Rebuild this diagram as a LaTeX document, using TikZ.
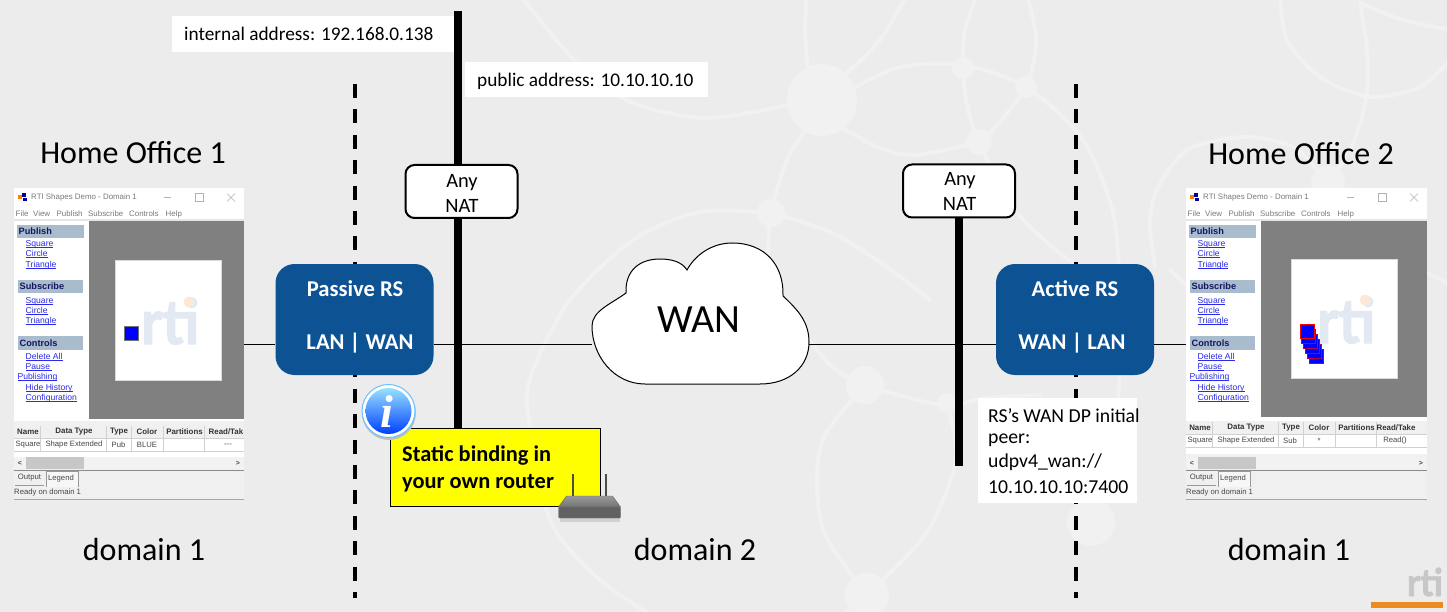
\documentclass[tikz,border=0pt]{standalone}
\usepackage{fontspec}
\usepackage{graphicx}
\setmainfont{Carlito}
\newfontfamily\winfont{Liberation Sans}
\newfontfamily\logofont[BoldFeatures={FakeBold=2}]{Lato}
\usetikzlibrary{shapes.geometric,calc}
\definecolor{pagebg}{HTML}{ECECEC}
\definecolor{wmark}{HTML}{F1F1F1}
\definecolor{rsblue}{HTML}{0D5394}
\definecolor{hdrblue}{HTML}{A9BCCD}
\definecolor{navytxt}{HTML}{14145F}
\definecolor{linkblue}{HTML}{2A2AE8}
\definecolor{wingrey}{HTML}{808080}
\definecolor{logoblue}{HTML}{E3E9F2}
\definecolor{logodot}{HTML}{FBE9D6}
\definecolor{barorange}{HTML}{EE8A22}
\definecolor{noteyel}{RGB}{255,255,0}
\newcommand\fs[1]{\fontsize{#1}{#1}\selectfont}
\newcommand\lnk[1]{\setbox0=\hbox{#1}\rlap{\rule[-1.1pt]{\wd0}{.55pt}}\box0}
\tikzset{
  x=1pt,y=-1pt,
  wm/.style={draw=wmark,line width=4pt,line cap=round,smooth},
  wmnode/.style={fill=wmark,draw=none},
  label/.style={inner sep=0pt,text=black,font=\fs{32}},
  bodytxt/.style={inner sep=0pt,anchor=west,font=\fs{19.3}},
  notetxt/.style={inner sep=0pt,anchor=west,font=\fs{19.7}},
  yeltxt/.style={inner sep=0pt,anchor=west,font=\fs{22.4}\bfseries},
  anytxt/.style={inner sep=0pt,font=\fs{20.4}},
  natbox/.style={draw=black,line width=2pt,fill=white,rounded corners=9pt,inner sep=0pt,minimum width=112pt,minimum height=53pt},
  rsbox/.style={fill=rsblue,rounded corners=19pt,inner sep=0pt,minimum width=158pt,minimum height=111pt},
  rstext/.style={text=white,inner sep=0pt,font=\fs{22.6}\bfseries},
  dashline/.style={line width=4pt,dash pattern=on 14pt off 11.4pt},
  natline/.style={line width=7.8pt},
  wintxt/.style={inner sep=0pt,anchor=west,font=\winfont\fs{8.6}},
  grytxt/.style={wintxt,text=black!52,font=\winfont\fs{7.9}},
  hdrtxt/.style={wintxt,font=\winfont\bfseries\fs{9.2},text=navytxt},
  linktxt/.style={wintxt,anchor=base west,yshift=-3pt,text=linkblue},
  tabtxt/.style={inner sep=0pt,font=\winfont\fs{7.7},text=black!72},
  tabhdr/.style={inner sep=0pt,font=\winfont\bfseries\fs{7.9},text=black!80},
  logotxt/.style={inner sep=0pt,anchor=base west},
}
% #1 name prefix, #2 x shift, #3 right edge (local), #4 bottom of grey field, #5 header row y
\newcommand\shapeswin[5]{%
\begin{scope}[shift={(#2,0)}]
  \fill[white] (14,188) rectangle (#3,421);
  \fill[black!6] (14,421) rectangle (#3,500);
  \fill[wingrey] (89,221) rectangle (#3,#4);
  \fill[black!10] (14,219.5) rectangle (#3,221);
  % title bar
  \fill[blue!60!black] (22,193) rectangle (26,197); \fill[orange] (18,195) rectangle (21.5,199);
  \fill[blue!60!black] (23,198) rectangle (26.5,201.5);
  \node[grytxt] (#1title) at (31,197.5) {RTI Shapes Demo - Domain 1};
  \draw[black!30] ($(#3-80,197.5)$) -- ++(7,0);
  \draw[black!30] ($(#3-49,193.5)$) rectangle ++(8,8);
  \draw[black!30] ($(#3-17,193.5)$) -- ++(8,8) ($(#3-17,201.5)$) -- ++(8,-8);
  \node[grytxt] (#1mf) at (15.5,214) {File};
  \node[grytxt] (#1mv) at (33,214) {View};
  \node[grytxt] (#1mp) at (56.5,214) {Publish};
  \node[grytxt] (#1ms) at (88,214) {Subscribe};
  \node[grytxt] (#1mc) at (129,214) {Controls};
  \node[grytxt] (#1mh) at (165.5,214) {Help};
  % side panel
  \fill[hdrblue] (17,225) rectangle (84,238);
  \node[hdrtxt] (#1hp) at (18.5,231.5) {Publish};
  \node[linktxt] (#1a) at (25.5,243.5) {\lnk{Square}};
  \node[linktxt] (#1b) at (25.5,253.5) {\lnk{Circle}};
  \node[linktxt] (#1c) at (25.5,264) {\lnk{Triangle}};
  \fill[hdrblue] (18,280) rectangle (83,293);
  \node[hdrtxt] (#1hs) at (19.5,286.5) {Subscribe};
  \node[linktxt] (#1d) at (25.5,300) {\lnk{Square}};
  \node[linktxt] (#1e) at (25.5,310) {\lnk{Circle}};
  \node[linktxt] (#1f) at (25.5,320.5) {\lnk{Triangle}};
  \fill[hdrblue] (18,336) rectangle (83,350);
  \node[hdrtxt] (#1hc) at (19.5,343) {Controls};
  \node[linktxt] (#1g) at (25.5,356) {\lnk{Delete All}};
  \node[linktxt] (#1h) at (25.5,366) {\lnk{Pause\ }};
  \node[linktxt] (#1i) at (17.5,376.5) {\lnk{Publishing}};
  \node[linktxt] (#1j) at (25.5,387) {\lnk{Hide History}};
  \node[linktxt] (#1k) at (25.5,397) {\lnk{Configuration}};
  % table
  \fill[white] (14,{#5+6}) rectangle (#3,{#5+26});
  \foreach \cx in {40.5,106,131.5,163.5,204} {\draw[black!18,line width=.7pt] (\cx,{#5-6}) -- (\cx,{#5+19});}
  \draw[black!18,line width=.7pt] (14,{#5+6}) -- (#3,{#5+6}) (14,{#5+19}) -- (#3,{#5+19});
  \node[tabhdr] (#1t1) at (28,#5) {Name};
  \node[tabhdr] (#1t2) at (74,#5) {Data Type};
  \node[tabhdr] (#1t3) at (119,#5) {Type};
  \node[tabhdr] (#1t4) at (147,#5) {Color};
  \node[tabhdr] (#1t5) at (184.5,#5) {Partitions};
  \node[tabtxt] (#1r1) at (28,{#5+13}) {Square};
  \node[tabtxt] (#1r2) at (74,{#5+13}) {Shape Extended};
  % scroll bar, tabs, status
  \fill[black!5] (14,457) rectangle (#3,469);
  \fill[black!22] (26,457) rectangle (84,469);
  \node[tabtxt,font=\winfont\bfseries\fs{7}] (#1sl) at (20,463) {<};
  \node[tabtxt,font=\winfont\bfseries\fs{7}] (#1sr) at ($(#3-6,463)$) {>};
  \draw[black!45] (14,470) -- (#3,470);
  \draw[black!40] (15,485.5) -- (44,485.5);
  \fill[black!3] (46,471) rectangle (78,487);
  \draw[black!40] (46,487) -- (46,471) -- (78,471) -- (78,487);
  \node[tabtxt] (#1o) at (29.5,478) {Output};
  \node[tabtxt] (#1l) at (61,478.5) {Legend};
  \node[tabtxt,anchor=west] (#1st) at (14,493) {Ready on domain 1};
  \draw[black!35] (14,499.5) -- (#3,499.5);
\end{scope}}
\begin{document}
\begin{tikzpicture}
\useasboundingbox (0,0) rectangle (1447,612);
\fill[pagebg] (0,0) rectangle (1447,612);
% --- faint watermark network ---
\begin{scope}
\clip (0,0) rectangle (1447,612);
\draw[wm] plot[smooth] coordinates {(520,-5)(577,63)(633,103)(707,118)(790,105)(822,100)};
\draw[wm] plot[smooth] coordinates {(812,120)(787,160)(770,213)};
\draw[wm] plot[smooth] coordinates {(772,213)(700,212)(633,240)(570,300)(533,370)(528,413)(550,520)(600,580)(660,620)};
\draw[wm] plot[smooth] coordinates {(807,-5)(805,30)(808,70)};
\draw[wm] plot[smooth] coordinates {(907,-5)(880,40)(845,75)};
\draw[wm] plot[smooth] coordinates {(850,90)(900,67)(963,65)(1026,87)(1083,140)(1113,213)(1120,300)(1118,400)(1100,510)};
\draw[wm] plot[smooth] coordinates {(977,-5)(965,30)(963,68)(967,105)(979,142)(1013,207)(1050,245)(1090,275)};
\draw[wm] plot[smooth] coordinates {(1027,-5)(1036,40)(1026,87)(990,133)(979,142)};
\draw[wm] plot[smooth] coordinates {(843,128)(880,148)(917,155)(979,142)};
\draw[wm] plot[smooth] coordinates {(772,213)(830,232)(880,262)(930,300)};
\draw[wm] plot[smooth] coordinates {(769,220)(768,260)};
\draw[wm] plot[smooth] coordinates {(808,337)(830,365)(865,385)(943,405)(985,398)(1040,395)};
\draw[wm] plot[smooth] coordinates {(865,385)(825,435)(817,480)(825,535)(867,595)};
\draw[wm] plot[smooth] coordinates {(947,403)(955,440)(953,473)(925,535)(867,595)(830,625)};
\draw[wm] plot[smooth] coordinates {(1280,-5)(1287,40)(1320,77)(1370,97)(1420,87)(1452,58)};
\draw[wm] plot[smooth] coordinates {(1360,3)(1367,50)(1366,100)(1350,150)(1328,183)};
\draw[wm] plot[smooth] coordinates {(1360,3)(1403,20)(1452,30)};
\draw[wm] plot[smooth] coordinates {(1155,267)(1150,225)(1157,190)(1187,150)(1243,137)(1293,147)(1328,183)};
\draw[wm] plot[smooth] coordinates {(1427,273)(1452,285)};
\draw[wm] plot[smooth] coordinates {(1170,270)(1186,285)};
\fill[wmnode] (822,100) ellipse[x radius=35,y radius=36];
\fill[wmnode] (771,213) circle[radius=14];
\fill[wmnode] (963,68) circle[radius=11];
\fill[wmnode] (1026,87) circle[radius=11];
\fill[wmnode] (979,142) circle[radius=13];
\fill[wmnode] (865,385) circle[radius=19];
\fill[wmnode] (947,403) circle[radius=10];
\fill[wmnode] (867,595) circle[radius=22];
\fill[wmnode] (1328,183) circle[radius=17];
\fill[wmnode] (1091,522) circle[radius=24];
\end{scope}
% --- windows ---
\shapeswin{wa}{0}{244}{419}{432}
\shapeswin{wb}{1172}{255}{417}{428}
% window A canvas
\fill[white,draw=black!15] (115,260) rectangle (221,380);
\node[logotxt,text=logoblue,font=\logofont\bfseries\fs{62}] (logoa) at (141,344) {\scalebox{.92}[1]{rti}};
\fill[logodot] (189,302) circle[radius=5.5];
\fill[blue,draw=black!55] (124,326) rectangle (138,340);
% window B canvas
\fill[white,draw=black!15] (1291,259) rectangle (1397,378);
\node[logotxt,text=logoblue,font=\logofont\bfseries\fs{62}] (logob) at (1317,343) {\scalebox{.92}[1]{rti}};
\fill[logodot] (1365,300) circle[radius=5.5];
\foreach \k in {5,4,3,2,1} {\fill[blue,draw=red!70!blue,line width=.8pt] ({1300+\k*1.8},{324+\k*5}) rectangle ++(14,14);}
\fill[blue,draw=red,line width=1pt] (1300,324) rectangle ++(14,14);
% table cells that differ
\node[tabhdr] (wat6) at (226,432) {Read/Tak};
\node[tabtxt] (wav3) at (118.5,445) {Pub};
\node[tabtxt] (wav4) at (147,445) {BLUE};
\node[tabtxt] (wav6) at (228,445) {---};
\node[tabhdr] (wbt6) at (1396,428) {Read/Take};
\node[tabtxt] (wbv3) at (1290,441) {Sub};
\node[tabtxt] (wbv4) at (1319,441) {*};
\node[tabtxt] (wbv6) at (1395,441) {Read()};
% --- dashed boundaries ---
\coordinate (da1) at (355,84); \coordinate (da2) at (355,598);
\coordinate (db1) at (1075.5,84); \coordinate (db2) at (1075.5,598);
\draw[dashline] (da1) -- (da2);
\draw[dashline] (db1) -- (db2);
% --- nodes ---
\node[rsbox] (passive) at (354.5,319.5) {};
\node[rsbox] (active) at (1075,319.5) {};
\node[natbox] (nat1) at (461.5,191.5) {};
\node[natbox] (nat2) at (959,191) {};
% cloud
\path[fill=white,draw=black,line width=1pt]
  (645,384) .. controls (614,384) and (592,356) .. (592,326)
  .. controls (592,311) and (611,304) .. (626,293)
  .. controls (625,270) and (640,259) .. (660,259)
  .. controls (672,259) and (682,262) .. (687,270)
  .. controls (695,255) and (712,243) .. (732,243)
  .. controls (765,243) and (784,265) .. (783,296)
  .. controls (798,310) and (809,322) .. (809,342)
  .. controls (809,366) and (790,384) .. (760,384) -- cycle;
\node[inner sep=0pt,font=\fs{40}] (wan) at (699,320) {WAN};
\coordinate (lineA) at (244,344.5);
\coordinate (cloudL) at (592,344.5);
\coordinate (cloudR) at (809,344.5);
\coordinate (lineB) at (1186,344.5);
\coordinate (nata) at (458,11);
\coordinate (natb) at (458,430);
\coordinate (natc) at (959,466);
% backbone, between the boxes
\draw[line width=1pt] (lineA) -- (lineA -| passive.west);
\draw[line width=1pt] (lineA -| passive.east) -- (cloudL);
\draw[line width=1pt] (cloudR) -- (lineA -| active.west);
\draw[line width=1pt] (lineA -| active.east) -- (lineB);
% thick NAT lines
\draw[natline] (nata) -- (nat1.north -| nata);
\draw[natline] (nat1.south -| nata) -- (natb);
\draw[natline] (nat2.south -| natc) -- (natc);
% text in boxes
\node[rstext] (ptop) at (355,289) {Passive RS};
\node[rstext] (pbot) at (360,343) {LAN | WAN};
\node[rstext] (atop) at (1075,289) {Active RS};
\node[rstext] (abot) at (1072,343) {WAN | LAN};
\node[anytxt] (any1) at (462,182.5) {Any};
\node[anytxt] (natt1) at (462,205.5) {NAT};
\node[anytxt] (any2) at (960,180.5) {Any};
\node[anytxt] (natt2) at (959.5,203.5) {NAT};
% address boxes
\fill[white] (172,16) rectangle (454,52);
\node[bodytxt] (intaddr) at (184,34) {internal address: 192.168.0.138};
\fill[white] (465,62) rectangle (708,97);
\node[bodytxt] (pubaddr) at (477,81.5) {public address: 10.10.10.10};
% yellow note
\path[fill=noteyel,draw=black,line width=1pt] (390.5,428.5) rectangle (600.5,506.5);
\node[yeltxt] (st1) at (402,456) {Static binding in};
\node[yeltxt] (st2) at (402,483) {your own router};
% info icon
\fill[black!25] (389,413) circle[radius=27];
\fill[white] (388.5,411) circle[radius=26.5];
\draw[blue!40!cyan!60,line width=1pt] (388.5,411) circle[radius=26.5];
\shade[top color=blue!30!cyan!40!white,bottom color=blue!75!cyan] (388.5,411) circle[radius=23];
\node[inner sep=0pt,text=white,font=\fontspec{Liberation Serif}\itshape\bfseries\fs{46}] (infoi) at (387,412) {i};
% router
\fill[black!18] (560,518) rectangle (620,522);
\draw[black!70!white,line width=1.6pt] (573,474) -- (573,497);
\draw[black!70!white,line width=1.6pt] (606,474) -- (606,497);
\path[top color=black!40,bottom color=black!55,draw=black!60] (566.5,496) -- (612.5,496) -- (620.5,507) -- (558.5,507) -- cycle;
\path[fill=black!62,draw=black!55,rounded corners=1pt] (558.5,507) rectangle (620.5,518);
% RS note
\fill[white] (978,398) rectangle (1137,503);
\node[notetxt] (rs1) at (988,416) {RS’s WAN DP initial};
\node[notetxt] (rs2) at (988,440) {peer:};
\node[notetxt] (rs3) at (988,462) {udpv4\_wan://};
\node[notetxt] (rs4) at (988,487) {10.10.10.10:7400};
% titles
\node[label] (ho1) at (133,153) {Home Office 1};
\node[label] (ho2) at (1301,154) {Home Office 2};
\node[label] (d1) at (144,550) {domain 1};
\node[label] (d2) at (695,550) {domain 2};
\node[label] (d3) at (1289,550) {domain 1};
% corner logo
\node[logotxt,text=black!22,font=\logofont\bfseries\fs{38}] (corner) at (1407,596) {\scalebox{.92}[1]{rti}};
\fill[barorange] (1371,602) rectangle (1443,608);
\end{tikzpicture}
\end{document}
